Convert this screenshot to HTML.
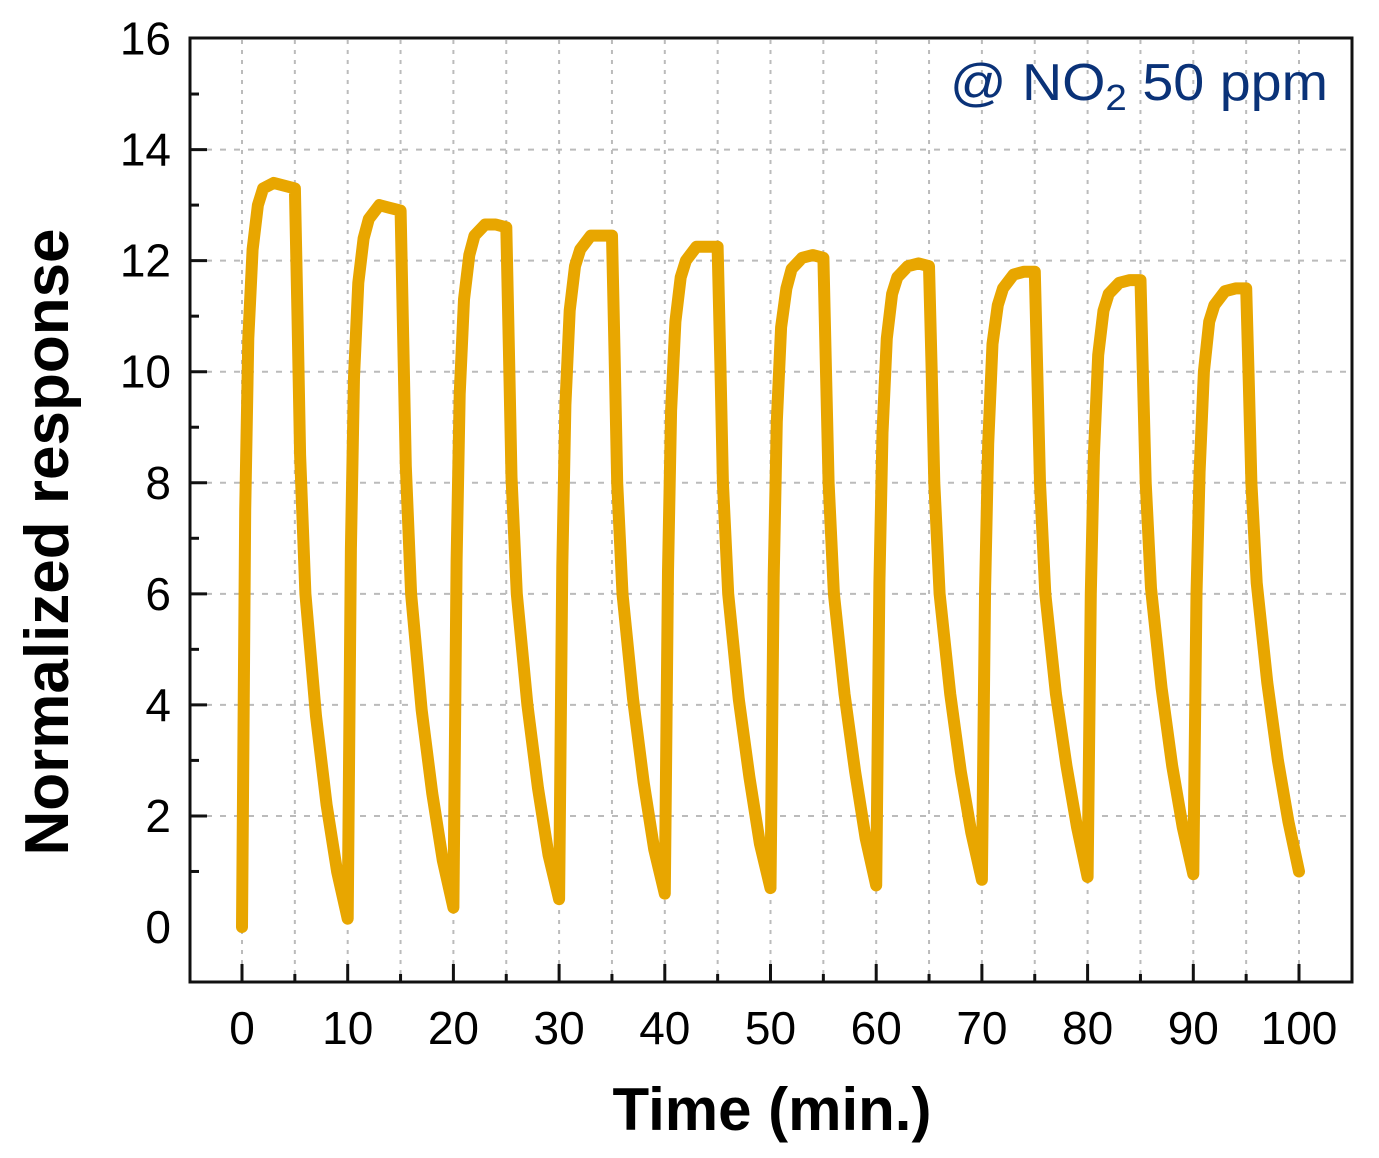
<!DOCTYPE html>
<html><head><meta charset="utf-8"><style>
body{margin:0;background:#fff}
svg{display:block}
text{font-family:"Liberation Sans",Arial,sans-serif}
</style></head><body>
<svg id="chart" width="1379" height="1158" viewBox="0 0 1379 1158" xmlns="http://www.w3.org/2000/svg">
<g id="grid"></g>
<g id="ticks"></g>
<path id="line" fill="none" stroke="#E8A600" stroke-width="12" stroke-linejoin="round" stroke-linecap="round"/>
<rect x="190" y="38" width="1162" height="944" fill="none" stroke="#111" stroke-width="3"/>
<text x="950" y="100" font-size="52" fill="#0a3278" textLength="378" lengthAdjust="spacingAndGlyphs">@ NO<tspan font-size="36" dy="10">2</tspan><tspan dy="-10"> 50 ppm</tspan></text>
<text x="772" y="1130" font-size="60" font-weight="bold" text-anchor="middle">Time (min.)</text>
<text transform="translate(68,542) rotate(-90)" font-size="62" font-weight="bold" text-anchor="middle">Normalized response</text>
</svg>
<script>
const xTicks=[0,10,20,30,40,50,60,70,80,90,100];
const yTicks=[0,2,4,6,8,10,12,14,16];
const offsets=[0,0.3,0.6,1,1.5,2,3,4,5,5.25,5.5,6,7,8,9,10];
const c1=[0,7.5,10.6,12.2,13.0,13.3,13.4,13.35,13.3,11,8.5,6,3.8,2.2,1.0,0.15];
const c2=[0.15,6.8,9.9,11.6,12.4,12.75,13.0,12.95,12.9,10.6,8.3,6,3.9,2.4,1.2,0.35];
const c3=[0.35,6.6,9.6,11.3,12.1,12.45,12.65,12.65,12.6,10.4,8.1,6,4,2.5,1.3,0.5];
const c4=[0.5,6.5,9.4,11.1,11.9,12.2,12.45,12.45,12.45,10.3,8,6,4.1,2.6,1.4,0.6];
const c5=[0.6,6.4,9.3,10.9,11.7,12.0,12.25,12.25,12.25,10.2,8,6,4.1,2.7,1.5,0.7];
const c6=[0.7,6.3,9.1,10.8,11.5,11.85,12.05,12.1,12.05,10,8,6,4.2,2.8,1.6,0.75];
const c7=[0.75,6.2,8.9,10.6,11.4,11.7,11.9,11.95,11.9,10,8,6,4.2,2.8,1.7,0.85];
const c8=[0.85,6.1,8.7,10.5,11.2,11.5,11.75,11.8,11.8,9.9,8,6,4.2,2.9,1.8,0.9];
const c9=[0.9,6.0,8.5,10.3,11.1,11.4,11.6,11.65,11.65,9.8,8,6.1,4.3,2.9,1.8,0.95];
const c10=[0.95,6.0,8.2,10.0,10.9,11.2,11.45,11.5,11.5,9.8,8,6.2,4.4,3.0,1.9,1.0];
const cycles=[c1,c2,c3,c4,c5,c6,c7,c8,c9,c10];
const cycleStarts=[0,10,20,30,40,50,60,70,80,90];

const NS="http://www.w3.org/2000/svg";
const X=t=>242+t*(1299-242)/100;
const Y=v=>927-v*(927-38.5)/16;
const grid=document.getElementById('grid'), ticks=document.getElementById('ticks');
function ln(g,x1,y1,x2,y2,stroke,w,dash){const l=document.createElementNS(NS,'line');
l.setAttribute('x1',x1);l.setAttribute('y1',y1);l.setAttribute('x2',x2);l.setAttribute('y2',y2);
l.setAttribute('stroke',stroke);l.setAttribute('stroke-width',w);if(dash)l.setAttribute('stroke-dasharray',dash);g.appendChild(l);return l;}
for(let t=0;t<=100;t+=5){
 const l=ln(grid,X(t),40,X(t),980,'#bbb',2,'4 6');
 
 
 const tk=ln(ticks,X(t),982,X(t),t%10===0?964:974,'#111',3);
 
 
}
for(let v=1;v<16;v++){
 if(v%2===0){const l=ln(grid,192,Y(v),1350,Y(v),'#bbb',2,'6 8');
 
 }
 const tk=ln(ticks,190,Y(v),v%2===0?207:199,Y(v),'#111',3);
 
 
}
const svg=document.getElementById('chart');
xTicks.forEach(t=>{const e=document.createElementNS(NS,'text');
e.setAttribute('x',X(t));e.setAttribute('y',1044);e.setAttribute('font-size','46');e.setAttribute('text-anchor','middle');


e.textContent=t;svg.appendChild(e);});
yTicks.forEach(v=>{const e=document.createElementNS(NS,'text');
e.setAttribute('x',171);e.setAttribute('y',Y(v)+16);e.setAttribute('font-size','46');e.setAttribute('text-anchor','end');


e.textContent=v;svg.appendChild(e);});
let d='';
cycles.forEach((c,i)=>{c.forEach((v,j)=>{d+=(d?'L':'M')+X(cycleStarts[i]+offsets[j]).toFixed(1)+','+Y(v).toFixed(1);});});
document.getElementById('line').setAttribute('d',d);
</script>
</body></html>
